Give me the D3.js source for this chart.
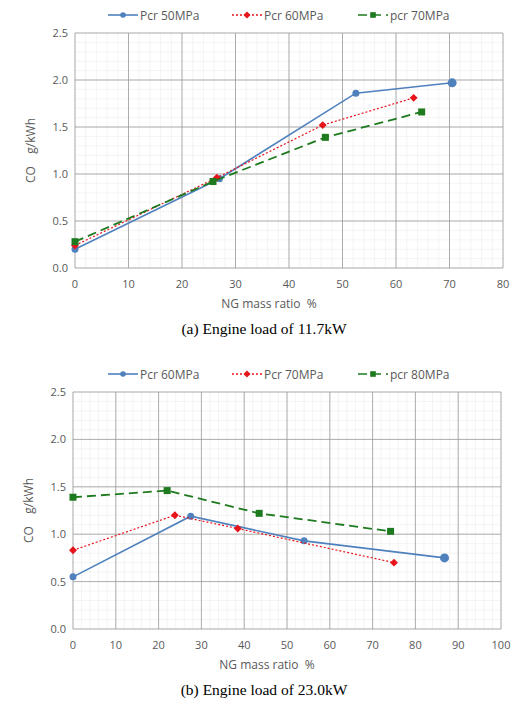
<!DOCTYPE html>
<html><head><meta charset="utf-8">
<script src="https://cdn.jsdelivr.net/npm/d3@7"></script>
<style>body{margin:0;background:#fff}</style>
</head><body>
<svg id="c" width="528" height="720"></svg>
<script>
// chart (a) 11.7 kW
const namesA = ['Pcr 50MPa', 'Pcr 60MPa', 'pcr 70MPa'];
const xA = [[0, 27, 52.5, 70.5], [0, 26.5, 46.3, 63.3], [0, 25.8, 46.8, 64.8]];
const yA = [[0.2, 0.95, 1.86, 1.97], [0.24, 0.96, 1.52, 1.81], [0.28, 0.92, 1.39, 1.66]];
const xTicksA = [0, 10, 20, 30, 40, 50, 60, 70, 80];
// chart (b) 23.0 kW
const namesB = ['Pcr 60MPa', 'Pcr 70MPa', 'pcr 80MPa'];
const xB = [[0, 27.5, 54, 86.8], [0, 23.8, 38.5, 75], [0, 22, 43.5, 74.2]];
const yB = [[0.55, 1.19, 0.93, 0.75], [0.83, 1.2, 1.06, 0.7], [1.39, 1.46, 1.22, 1.03]];
const xTicksB = [0, 10, 20, 30, 40, 50, 60, 70, 80, 90, 100];
const yTicks = [0, 0.5, 1.0, 1.5, 2.0, 2.5];

const svg = d3.select('#c');
const colors = ['#4f81bd', '#e8141b', '#1e7a1e'];
const dashes = [null, '2,2', '9,5'];
const font = 'Open Sans, Liberation Sans, sans-serif';

function panel(top, left, right, bottom, xMax, xTicks, names, xs, ys, caption) {
  const g = svg.append('g');
  const x = d3.scaleLinear().domain([0, xMax]).range([left, right]);
  const y = d3.scaleLinear().domain([0, 2.5]).range([bottom, top]);

  // minor grid
  g.selectAll('.mx').data(d3.range(0, xMax + 0.01, 2)).enter().append('line')
    .attr('x1', d => x(d)).attr('x2', d => x(d)).attr('y1', top).attr('y2', bottom)
    .attr('stroke', '#ececec').attr('stroke-width', 0.6);
  g.selectAll('.my').data(d3.range(0, 2.51, 0.1)).enter().append('line')
    .attr('y1', d => y(d)).attr('y2', d => y(d)).attr('x1', left).attr('x2', right)
    .attr('stroke', '#ececec').attr('stroke-width', 0.6);
  // major grid
  g.selectAll('.gx').data(xTicks).enter().append('line')
    .attr('x1', d => x(d)).attr('x2', d => x(d)).attr('y1', top).attr('y2', bottom)
    .attr('stroke', '#9a9a9a').attr('stroke-width', 0.8);
  g.selectAll('.gy').data(yTicks).enter().append('line')
    .attr('y1', d => y(d)).attr('y2', d => y(d)).attr('x1', left).attr('x2', right)
    .attr('stroke', '#9a9a9a').attr('stroke-width', 0.8);

  g.selectAll('.tx').data(xTicks).enter().append('text')
    .attr('x', d => x(d)).attr('y', bottom + 20).attr('text-anchor', 'middle')
    .attr('font-family', font).attr('font-size', 11).attr('fill', '#595959').text(d => d);
  g.selectAll('.ty').data(yTicks).enter().append('text')
    .attr('x', left - 7).attr('y', d => y(d) + 4).attr('text-anchor', 'end')
    .attr('font-family', font).attr('font-size', 11).attr('fill', '#595959').text(d => d.toFixed(1));

  g.append('text').attr('x', (left + right) / 2 - 20).attr('y', bottom + 40).attr('text-anchor', 'middle')
    .attr('font-family', font).attr('font-size', 12).attr('fill', '#595959').attr('xml:space', 'preserve')
    .text('NG mass ratio  %');
  g.append('text').attr('transform', `translate(${left - 40},${(top + bottom) / 2}) rotate(-90)`)
    .attr('text-anchor', 'middle').attr('font-family', font).attr('font-size', 12).attr('fill', '#595959')
    .attr('xml:space', 'preserve').text('CO    g/kWh');
  g.append('text').attr('x', 264).attr('y', bottom + 66).attr('text-anchor', 'middle')
    .attr('font-family', 'Liberation Serif, serif').attr('font-size', 15.5).attr('fill', '#000').text(caption);

  const line = d3.line().x(d => x(d[0])).y(d => y(d[1]));
  names.forEach((n, i) => {
    const pts = xs[i].map((v, j) => [v, ys[i][j]]);
    g.append('path').attr('d', line(pts)).attr('fill', 'none').attr('stroke', colors[i])
      .attr('stroke-width', i === 0 ? 1.6 : (i === 1 ? 1.2 : 1.8)).attr('stroke-dasharray', dashes[i]);
    marker(g, pts.map(p => [x(p[0]), y(p[1])]), i, 1);
  });

  // legend
  const lx = [108, 232, 358];
  names.forEach((n, i) => {
    const ly = top - 18;
    g.append('line').attr('x1', lx[i]).attr('x2', lx[i] + 30).attr('y1', ly).attr('y2', ly)
      .attr('stroke', colors[i]).attr('stroke-width', 1.6).attr('stroke-dasharray', dashes[i]);
    marker(g, [[lx[i] + 15, ly]], i, 0.8);
    g.append('text').attr('x', lx[i] + 32).attr('y', ly + 4.5).attr('font-family', font)
      .attr('font-size', 12).attr('fill', '#595959').text(n);
  });
}

function marker(g, pts, i, s) {
  pts.forEach((p, j) => {
    const last = j === pts.length - 1 && s === 1;
    if (i === 0) g.append('circle').attr('cx', p[0]).attr('cy', p[1]).attr('r', (last ? 4.5 : 3.5) * s).attr('fill', colors[0]);
    else if (i === 1) g.append('path').attr('d', d3.symbol(d3.symbolDiamond2, 40 * s)()).attr('transform', `translate(${p[0]},${p[1]})`).attr('fill', colors[1]);
    else g.append('rect').attr('x', p[0] - 3.5 * s).attr('y', p[1] - 3.5 * s).attr('width', 7 * s).attr('height', 7 * s).attr('fill', colors[2]);
  });
}

panel(33, 75, 503, 268, 80, xTicksA, namesA, xA, yA, '(a) Engine load of 11.7kW');
panel(392, 73, 501, 629, 100, xTicksB, namesB, xB, yB, '(b) Engine load of 23.0kW');
</script>
</body></html>
